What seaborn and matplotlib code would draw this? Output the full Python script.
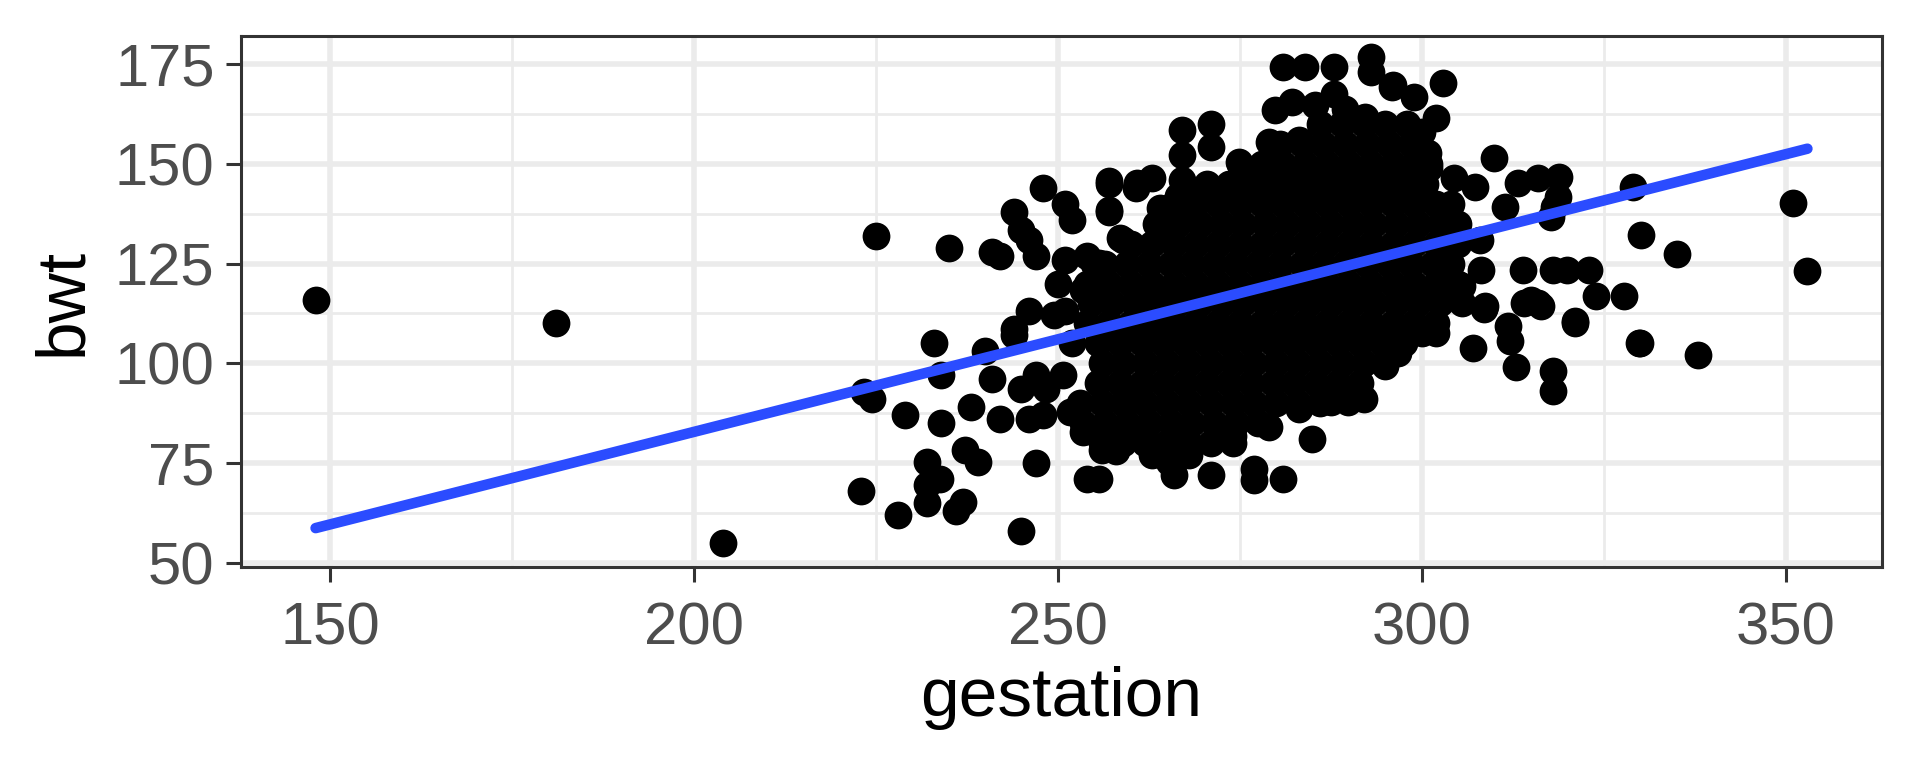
import pandas as pd
import matplotlib
matplotlib.use("Agg")
import matplotlib.pyplot as plt
import seaborn as sns

# babies data: gestation (days) vs birth weight (oz)
# loose points
edge_gest = [148, 181, 204,
             223, 223.3, 224.4, 225, 228, 229, 232, 232, 232, 233, 233.8, 234, 234, 235, 236, 237, 237.2,
             238, 239, 240, 241, 242, 241, 242, 244, 245, 246, 247, 248, 244, 244, 246, 245, 246, 245,
             247, 248, 248.4, 247, 249.5, 251, 251, 252, 251, 254, 255, 250.7, 252, 250, 253.4, 251.6,
             253.4, 254, 256, 258, 257, 260.7, 257, 259, 262,
             255.7, 258, 258.4, 260, 262.1, 265.3, 266, 266.6, 267.6, 271, 274, 276.9, 276.9, 279, 281,
             283.1, 284.9, 287.6, 289.9, 292, 295, 263, 268,
             257, 260.9, 263, 257, 258.6, 255.7, 263.9, 268, 269.8, 264, 266.5, 267.1, 267.1, 267, 271,
             271, 274.9, 279, 283.1, 279.9, 282.2, 285.4, 288, 289.5, 292.2, 281, 284, 288, 293, 293, 295.9,
             296.1, 302.9, 299, 302, 300, 301, 300.9, 310, 304.5, 307.3, 313.2, 316, 318.9, 311.4, 318.2,
             318.7, 317.8, 329, 330.1, 335.1, 308, 303.2, 308.2, 313.9, 318, 320, 323, 315, 316, 324,
             327.8, 321, 311.8, 303.6, 305.5, 308.7,
             308.6, 314.1, 316.4, 321, 329.9, 312.1, 313, 318, 318, 307.1, 302, 300, 295, 296.8,
             351, 353, 330, 338]
edge_bwt = [116, 110, 55,
            68, 92.7, 91, 132, 62, 87, 75.3, 69.4, 65, 105, 71, 97, 85, 129, 63, 65.3, 78.2,
            89, 75.3, 103, 128, 127, 96, 86, 138, 133.5, 131, 127, 144, 108.5, 107, 113, 93.6, 86, 58,
            75, 87, 93.6, 97, 112, 113, 140, 136, 126, 127, 125, 97, 105, 120, 118.5, 87.7,
            82.7, 71, 78.2, 78.2, 145, 144, 138, 131, 80.3,
            71.1, 78.1, 82.7, 91, 80.2, 75.2, 71.9, 82.7, 80.2, 71.9, 81.9, 73.6, 70.7, 84, 71.1,
            88.5, 81.1, 90.2, 90.2, 91, 100.2, 77, 77,
            145.6, 145.1, 146.4, 138.5, 131.4, 125.2, 134.3, 136.8, 143.5, 139, 142, 158.4, 152.2, 146, 160.1,
            154.3, 150.5, 155.5, 156, 163.4, 165.5, 164.7, 167.6, 163.8, 161.8, 174.3, 174.3, 174.3, 176.8, 173, 169.3,
            169.7, 170.3, 166.8, 161.4, 158, 149, 152.6, 151.4, 146.4, 144.3, 145.1, 146.4, 146.8, 139.3, 139.3,
            141.8, 136.8, 144.3, 132.2, 127.3, 131, 137.7, 123.5, 123.5, 123.5, 123.5, 123.5, 116, 115.2, 116.9,
            116.9, 110.6, 109.3, 132.7, 119.3, 114.3,
            113.5, 115.2, 114.3, 110.2, 105.2, 105.6, 99, 98.1, 93.1, 103.9, 107.7, 107.7, 99.4, 102.7,
            140.1, 123.1, 105, 102.1]

# solid black core of the cloud, read row by row: bwt level -> gestation values
core_bwt = [160, 155, 150, 145, 140, 135, 130, 125, 120, 115, 110, 105, 100, 95, 90, 85, 80]
core_gest = [
    [286, 289, 292, 295, 298],
    [280.5, 283.5, 286.5, 289.5, 292.5, 295.5, 298.5],
    [275, 278, 281, 284, 287, 290, 293, 296, 299, 301],
    [270.5, 273.5, 276.5, 279.5, 282.5, 285.5, 288.5, 291.5, 294.5, 297.5, 300.5],
    [266, 269, 272, 275, 278, 281, 284, 287, 290, 293, 296, 299, 302, 304],
    [263.5, 266.5, 269.5, 272.5, 275.5, 278.5, 281.5, 284.5, 287.5, 290.5, 293.5, 296.5, 299.5, 302.5, 305],
    [260, 263, 266, 269, 272, 275, 278, 281, 284, 287, 290, 293, 296, 299, 302, 305],
    [256.5, 259.5, 262.5, 265.5, 268.5, 271.5, 274.5, 277.5, 280.5, 283.5, 286.5, 289.5, 292.5, 295.5,
     298.5, 301.5, 304],
    [254, 257, 260, 263, 266, 269, 272, 275, 278, 281, 284, 287, 290, 293, 296, 299, 302, 305],
    [254.5, 257.5, 260.5, 263.5, 266.5, 269.5, 272.5, 275.5, 278.5, 281.5, 284.5, 287.5, 290.5, 293.5,
     296.5, 299.5, 302.5, 305.5],
    [254, 257, 260, 263, 266, 269, 272, 275, 278, 281, 284, 287, 290, 293, 296, 299, 302],
    [255.5, 258.5, 261.5, 264.5, 267.5, 270.5, 273.5, 276.5, 279.5, 282.5, 285.5, 288.5, 291.5, 294.5, 297.5],
    [256, 259, 262, 265, 268, 271, 274, 277, 280, 283, 286, 289, 292, 295],
    [255.5, 258.5, 261.5, 264.5, 267.5, 270.5, 273.5, 276.5, 279.5, 282.5, 285.5, 288.5, 291.5],
    [253, 256, 259, 262, 265, 268, 271, 274, 277, 280, 283, 286],
    [253.5, 256.5, 259.5, 262.5, 265.5, 268.5, 271.5, 274.5, 277.5],
    [256, 259, 262, 265, 268, 271, 274],
]

# linear fit drawn in the reference (geom_smooth method = "lm")
fit_gest = [148, 353]
fit_bwt = [58.7, 153.8]

x_ticks = [150, 200, 250, 300, 350]
x_minor = [175, 225, 275, 325]
y_ticks = [50, 75, 100, 125, 150, 175]
y_minor = [62.5, 87.5, 112.5, 137.5, 162.5]

rows = [(g, b) for b, gs in zip(core_bwt, core_gest) for g in gs]
babies = pd.concat([
    pd.DataFrame({"gestation": edge_gest, "bwt": edge_bwt}),
    pd.DataFrame(rows, columns=["gestation", "bwt"]),
], ignore_index=True)
fit = pd.DataFrame({"gestation": fit_gest, "bwt": fit_bwt})

sns.set_theme(style="white")
plt.rcParams["font.family"] = ["Liberation Sans", "DejaVu Sans"]

fig = plt.figure(figsize=(9.6, 3.84), dpi=200)
ax = fig.add_axes([241 / 1920, 1 - 567 / 768, (1882 - 241) / 1920, (567 - 36) / 768])

sns.scatterplot(data=babies, x="gestation", y="bwt", color="black", s=100, linewidth=0, ax=ax, zorder=3)
sns.lineplot(data=fit, x="gestation", y="bwt", color="#2B4CFF", linewidth=3.8, ax=ax, zorder=4)

ax.set_xlim(137.75, 363.25)
ax.set_ylim(48.95, 182.05)
ax.set_xticks(x_ticks)
ax.set_yticks(y_ticks)
ax.set_xticks(x_minor, minor=True)
ax.set_yticks(y_minor, minor=True)

ax.set_axisbelow(True)
ax.grid(which="major", color="#EBEBEB", linewidth=2.0)
ax.grid(which="minor", color="#EBEBEB", linewidth=1.0)
for s in ax.spines.values():
    s.set_visible(True)
    s.set_color("#333333")
    s.set_linewidth(1.1)

ax.tick_params(which="major", direction="out", length=5.5, width=1.1, color="#333333",
               labelsize=21.5, labelcolor="#4D4D4D", bottom=True, left=True)
ax.tick_params(axis="x", which="major", pad=7)
ax.tick_params(axis="y", which="major", pad=4)
ax.tick_params(which="minor", length=0)

ax.set_xlabel("gestation", fontsize=25, color="black", labelpad=3.5)
ax.set_ylabel("bwt", fontsize=25, color="black", labelpad=7)

fig.savefig("out.png", dpi=200)
